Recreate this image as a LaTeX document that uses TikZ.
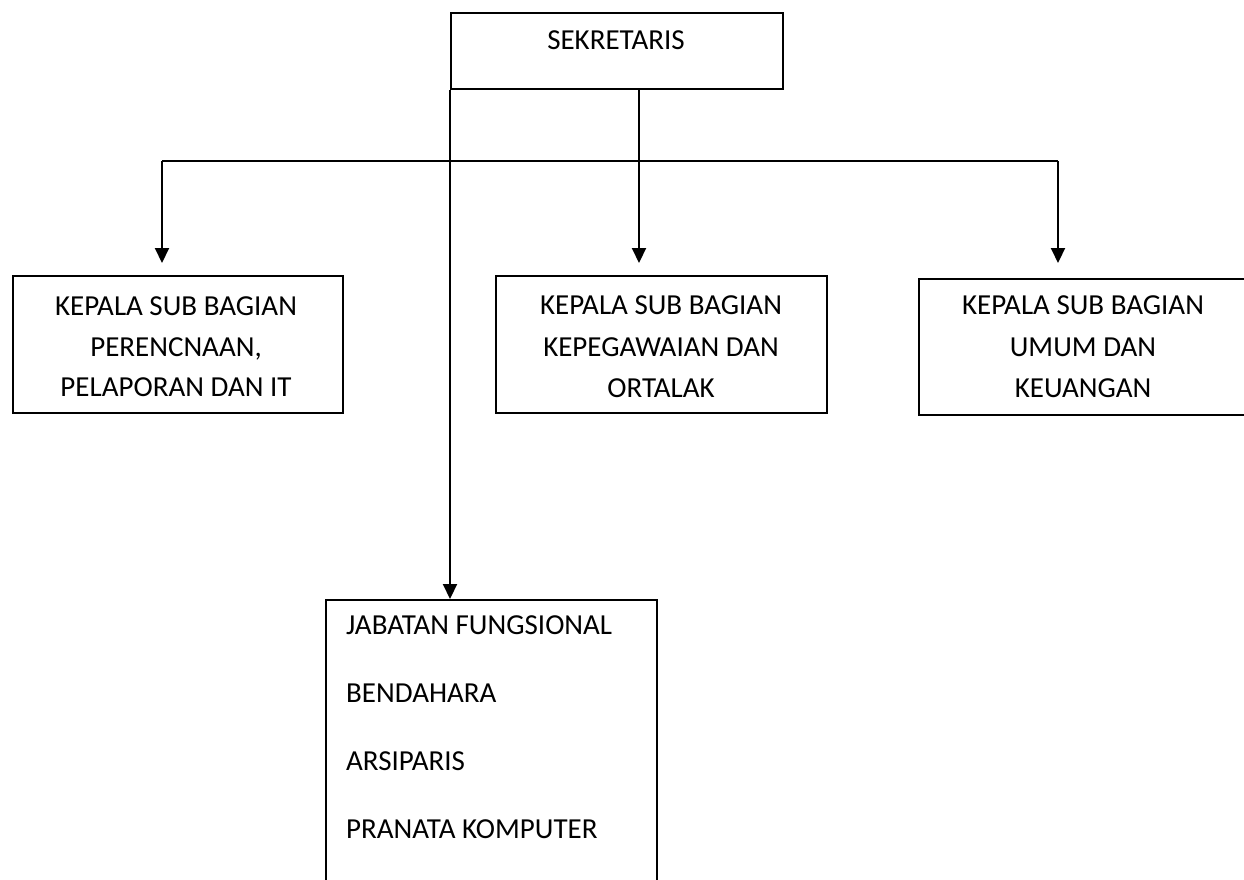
\documentclass[tikz,border=0pt]{standalone}
\usepackage{fontspec}
\setmainfont{Carlito}
\usetikzlibrary{arrows.meta}
\begin{document}
\begin{tikzpicture}[x=1pt,y=-1pt,
  box/.style={draw, line width=2.1pt, minimum width=#1, inner sep=0pt, anchor=north west},
  lbl/.style={anchor=base, inner sep=0pt, font=\fontsize{29}{35}\selectfont},
  llbl/.style={anchor=base west, inner sep=0pt, font=\fontsize{29}{35}\selectfont},
  ln/.style={line width=2.1pt},
  arr/.style={line width=2.1pt, -{Triangle[length=15pt,width=14pt]}}
]
\useasboundingbox (0,0) rectangle (1244,880);
% boxes
\node[box=332pt, minimum height=76pt] (sek) at (450,12) {};
\node[box=330pt, minimum height=137pt] (kl) at (12,275) {};
\node[box=331pt, minimum height=137pt] (km) at (495,275) {};
\node[box=345pt, minimum height=136pt] (kr) at (918,278) {};
\node[box=331pt, minimum height=330pt] (jab) at (325,599) {};
% texts
\node[lbl] (sekt) at (616,50) {SEKRETARIS};
\node[lbl] (kl1) at (176,315) {KEPALA SUB BAGIAN};
\node[lbl] (kl2) at (176,356) {PERENCNAAN,};
\node[lbl] (kl3) at (176,396) {PELAPORAN DAN IT};
\node[lbl] (km1) at (661,314) {KEPALA SUB BAGIAN};
\node[lbl] (km2) at (661,356) {KEPEGAWAIAN DAN};
\node[lbl] (km3) at (661,397) {ORTALAK};
\node[lbl] (kr1) at (1083,314) {KEPALA SUB BAGIAN};
\node[lbl] (kr2) at (1083,356) {UMUM DAN};
\node[lbl] (kr3) at (1083,397) {KEUANGAN};
\node[llbl] (j1) at (346,634) {JABATAN FUNGSIONAL};
\node[llbl] (j2) at (346,702) {BENDAHARA};
\node[llbl] (j3) at (346,770) {ARSIPARIS};
\node[llbl] (j4) at (346,838) {PRANATA KOMPUTER};
% connectors
\coordinate (jl) at (162,161);
\coordinate (jc) at (639,161);
\coordinate (jr) at (1058,161);
\draw[ln] (jl) -- (jr);
\draw[arr, shorten >=12pt] (sek.south -| jc) -- (km.north -| jc);
\draw[arr, shorten >=12pt] (jl) -- (kl.north -| jl);
\draw[arr, shorten >=15pt] (jr) -- (kr.north -| jr);
\draw[arr] (sek.south west) -- (sek.south west |- jab.north);
\end{tikzpicture}
\end{document}
